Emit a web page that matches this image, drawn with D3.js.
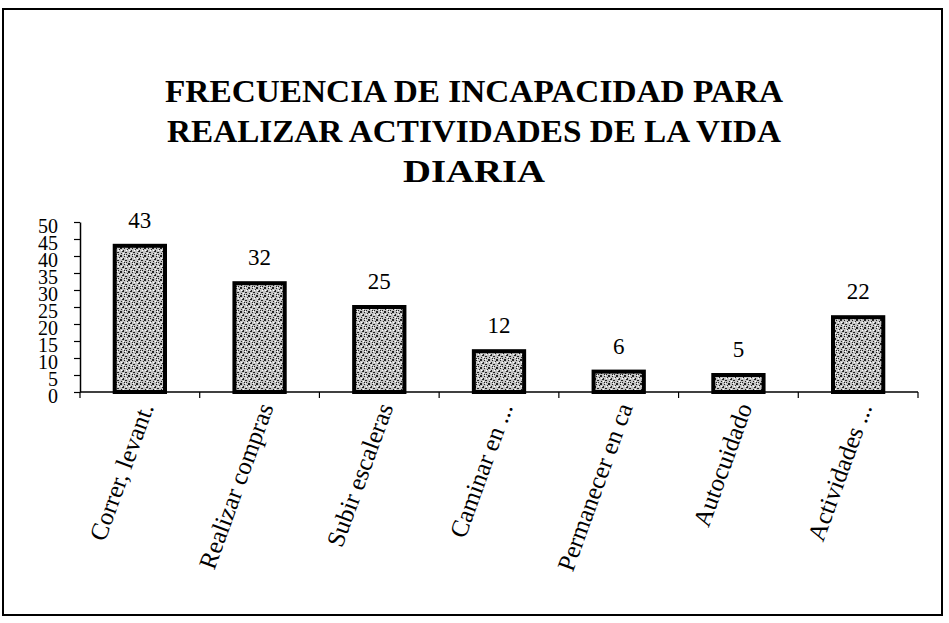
<!DOCTYPE html>
<html>
<head>
<meta charset="utf-8">
<script src="https://cdn.jsdelivr.net/npm/d3@7"></script>
<style>
  body { margin: 0; background: #fff; }
  svg text { font-family: "Liberation Serif", "DejaVu Serif", serif; fill: #000; }
</style>
</head>
<body>
<svg id="chart" width="949" height="623"></svg>
<script>
// data
var categories = ["Correr, levant.", "Realizar compras", "Subir escaleras", "Caminar en ...",
                  "Permanecer en ca", "Autocuidado", "Actividades ..."];
var values = [43, 32, 25, 12, 6, 5, 22];
var yTicks = [0, 5, 10, 15, 20, 25, 30, 35, 40, 45, 50];
var titleLines = ["FRECUENCIA DE INCAPACIDAD PARA", "REALIZAR ACTIVIDADES DE LA VIDA", "DIARIA"];

var svg = d3.select("#chart");

// outer frame
svg.append("rect")
  .attr("x", 3).attr("y", 9)
  .attr("width", 939).attr("height", 606)
  .attr("fill", "none").attr("stroke", "#000").attr("stroke-width", 2);

// speckled fill for the bars (looks like a scanned grey hatch)
var defs = svg.append("defs");
var pat = defs.append("pattern")
  .attr("id", "speckle").attr("patternUnits", "userSpaceOnUse")
  .attr("width", 8).attr("height", 8);
pat.append("rect").attr("width", 8).attr("height", 8).attr("fill", "#c4c4c4");
[[0,0,2,1],[3,2,1,2],[5,4,2,1],[1,5,1,1],[4,0,1,1],[2,3,1,1],[6,6,1,1],[7,1,1,1],[0,7,2,1],[4,6,1,1]].forEach(function(d) {
  pat.append("rect").attr("x", d[0]).attr("y", d[1]).attr("width", d[2]).attr("height", d[3]).attr("fill", "#222");
});
[[1,2,1,1],[6,2,1,1],[3,5,1,1],[5,7,1,1]].forEach(function(d) {
  pat.append("rect").attr("x", d[0]).attr("y", d[1]).attr("width", d[2]).attr("height", d[3]).attr("fill", "#fff");
});

// title
var titleWidths = [618, 614, 142];
svg.append("g").selectAll("text")
  .data(titleLines)
  .enter().append("text")
  .attr("x", 474)
  .attr("y", function(d, i) { return 102 + i * 40; })
  .attr("text-anchor", "middle")
  .attr("font-weight", "bold")
  .attr("font-size", 32)
  .attr("textLength", function(d, i) { return titleWidths[i]; })
  .attr("lengthAdjust", "spacingAndGlyphs")
  .text(function(d) { return d; });

// scales
var x = d3.scaleBand().domain(categories).range([80, 918]).paddingInner(0.58).paddingOuter(0.29);
var y = d3.scaleLinear().domain([0, 50]).range([392, 222]);
var step = x.step();

// y axis
var yAxis = svg.append("g")
  .attr("transform", "translate(80,0)")
  .call(d3.axisLeft(y).tickValues(yTicks).tickSize(6).tickPadding(16).tickSizeOuter(0));
yAxis.select(".domain").attr("stroke", "#000").attr("stroke-width", 1.5);
yAxis.selectAll(".tick line").attr("stroke", "#000").attr("stroke-width", 1.2);
yAxis.selectAll(".tick text")
  .attr("font-family", "Liberation Serif, serif")
  .attr("font-size", 20)
  .attr("dy", "0.5em");

// x axis line + category boundary ticks
svg.append("line")
  .attr("x1", 80).attr("x2", 918).attr("y1", 392).attr("y2", 392)
  .attr("stroke", "#000").attr("stroke-width", 1.5);
var bounds = categories.map(function(c) { return x(c) + x.bandwidth() / 2 - step / 2; });
bounds.push(x(categories[categories.length - 1]) + x.bandwidth() / 2 + step / 2);
svg.append("g").selectAll("line")
  .data(bounds)
  .enter().append("line")
  .attr("x1", function(d) { return d; }).attr("x2", function(d) { return d; })
  .attr("y1", 392).attr("y2", 398)
  .attr("stroke", "#000").attr("stroke-width", 1.2);

// bars
svg.append("g").selectAll("rect")
  .data(values)
  .enter().append("rect")
  .attr("x", function(d, i) { return x(categories[i]); })
  .attr("y", function(d) { return y(d); })
  .attr("width", x.bandwidth())
  .attr("height", function(d) { return y(0) - y(d); })
  .attr("fill", "url(#speckle)")
  .attr("stroke", "#000").attr("stroke-width", 4);

// value labels
svg.append("g").selectAll("text")
  .data(values)
  .enter().append("text")
  .attr("x", function(d, i) { return x(categories[i]) + x.bandwidth() / 2; })
  .attr("y", function(d) { return y(d) - 18; })
  .attr("text-anchor", "middle")
  .attr("font-size", 23)
  .text(function(d) { return d; });

// rotated category labels
svg.append("g").selectAll("text")
  .data(categories)
  .enter().append("text")
  .attr("transform", function(d) {
    return "translate(" + (x(d) + x.bandwidth() / 2 + 6) + ",404) rotate(-70)";
  })
  .attr("text-anchor", "end")
  .attr("dy", "0.35em")
  .attr("font-size", 25)
  .text(function(d) { return d; });
</script>
</body>
</html>
